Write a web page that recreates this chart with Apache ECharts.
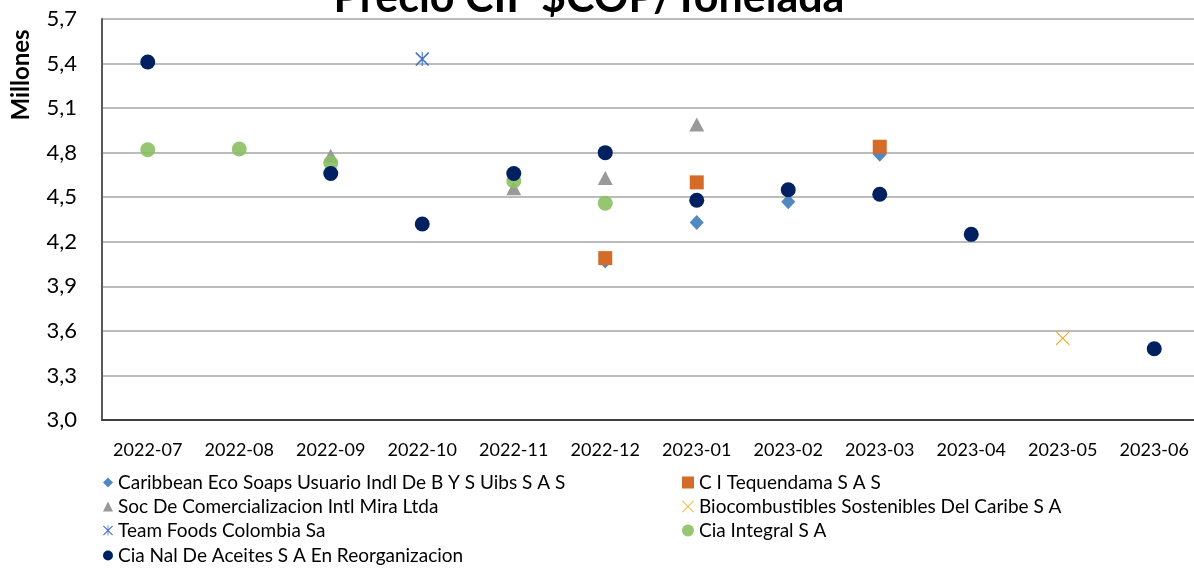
<!DOCTYPE html>
<html>
<head>
<meta charset="utf-8">
<script src="https://cdn.jsdelivr.net/npm/echarts@6/dist/echarts.min.js"></script>
<style>html,body{margin:0;padding:0;background:#fff;overflow:hidden;}#c{width:1200px;height:569px;}</style>
</head>
<body>
<div id="c"></div>
<script>
var categories = ['2022-07','2022-08','2022-09','2022-10','2022-11','2022-12','2023-01','2023-02','2023-03','2023-04','2023-05','2023-06'];
var caribbean  = [null,null,null,null,null,4.07,4.33,4.47,4.79,null,null,null];
var tequendama = [null,null,null,null,null,4.09,4.60,null,4.84,null,null,null];
var socMira    = [null,null,4.78,null,4.56,4.63,4.99,null,null,null,null,null];
var biocomb    = [null,null,null,null,null,null,null,null,null,null,3.55,null];
var teamFoods  = [null,null,null,5.43,null,null,null,null,null,null,null,null];
var ciaIntegral= [4.82,4.825,4.73,null,4.61,4.46,null,null,null,null,null,null];
var ciaNal     = [5.41,null,4.66,4.32,4.66,4.80,4.48,4.55,4.52,4.25,null,3.48];
var names = ['Caribbean Eco Soaps Usuario Indl De B Y S Uibs S A S','C I Tequendama S A S','Soc De Comercializacion Intl Mira Ltda','Biocombustibles Sostenibles Del Caribe S A','Team Foods Colombia Sa','Cia Integral S A','Cia Nal De Aceites S A En Reorganizacion'];
var yTicks = {min:3.0, max:5.7, interval:0.3};

var FONT = 'Lato';
var asterisk = 'path://M0,8L8,0L100,92L92,100Z M92,0L100,8L8,100L0,92Z M46,0L54,0L54,100L46,100Z';
var cross = 'path://M0,5L5,0L100,95L95,100Z M95,0L100,5L5,100L0,95Z';

var chart = echarts.init(document.getElementById('c'));
function leg(name, left, top, w){
  return {data:[name], left:left, top:top, padding:0, itemWidth:w, itemHeight:w, selectedMode:false,
    textStyle:{fontFamily:FONT, fontSize:19, color:'#000', padding:[0,0,0,0]}};
}
var option = {
  animation:false,
  graphic:[
    {type:'text', x:589, y:-2, style:{text:'Precio CIF $COP/Tonelada', font:'bold 43px '+FONT, fill:'#000', textAlign:'center', textVerticalAlign:'middle'}},
    {type:'text', x:21, y:75, rotation:Math.PI/2, style:{text:'Millones', font:'bold 24px '+FONT, fill:'#000', textAlign:'center', textVerticalAlign:'middle'}}
  ],
  grid:{left:102, width:1098, top:19, height:401, containLabel:false},
  legend:[
    leg(names[0],103,473,10),
    leg(names[2],103,497,10),
    leg(names[4],103,521,10),
    leg(names[6],103,546,10),
    leg(names[1],682,473,12),
    leg(names[3],682,497,12),
    leg(names[5],682,521,12)
  ],
  xAxis:{type:'category', data:categories, boundaryGap:true,
    axisLine:{lineStyle:{color:'#404040', width:2}}, axisTick:{show:false},
    axisLabel:{fontFamily:FONT, fontSize:18, color:'#000', margin:21, interval:0}},
  yAxis:{type:'value', min:yTicks.min, max:yTicks.max, interval:yTicks.interval,
    axisLine:{show:true, lineStyle:{color:'#595959', width:2}}, axisTick:{show:false},
    splitLine:{lineStyle:{color:'#a6a6a6', width:1.5}},
    axisLabel:{fontFamily:FONT, fontSize:22, color:'#000', margin:25,
      formatter:function(v){return v.toFixed(1).replace('.',',');}}},
  series:[
    {name:names[0], type:'scatter', data:caribbean, symbol:'diamond', symbolSize:[14,15], itemStyle:{color:'#4F89C0', opacity:1}},
    {name:names[1], type:'scatter', data:tequendama, symbol:'rect', symbolSize:14, itemStyle:{color:'#D46B28', opacity:1}},
    {name:names[2], type:'scatter', data:socMira, symbol:'triangle', symbolSize:[15,14], itemStyle:{color:'#999999', opacity:1}},
    {name:names[3], type:'scatter', data:biocomb, symbol:cross, symbolSize:14, itemStyle:{color:'#E8A817', opacity:1}},
    {name:names[4], type:'scatter', data:teamFoods, symbol:asterisk, symbolSize:14, itemStyle:{color:'#4472C4', opacity:1}},
    {name:names[5], type:'scatter', data:ciaIntegral, symbol:'circle', symbolSize:15, itemStyle:{color:'#8CC063', opacity:0.9}},
    {name:names[6], type:'scatter', data:ciaNal, symbol:'circle', symbolSize:15, itemStyle:{color:'#002060', opacity:1}}
  ]
};
chart.setOption(option);
</script>
</body>
</html>
